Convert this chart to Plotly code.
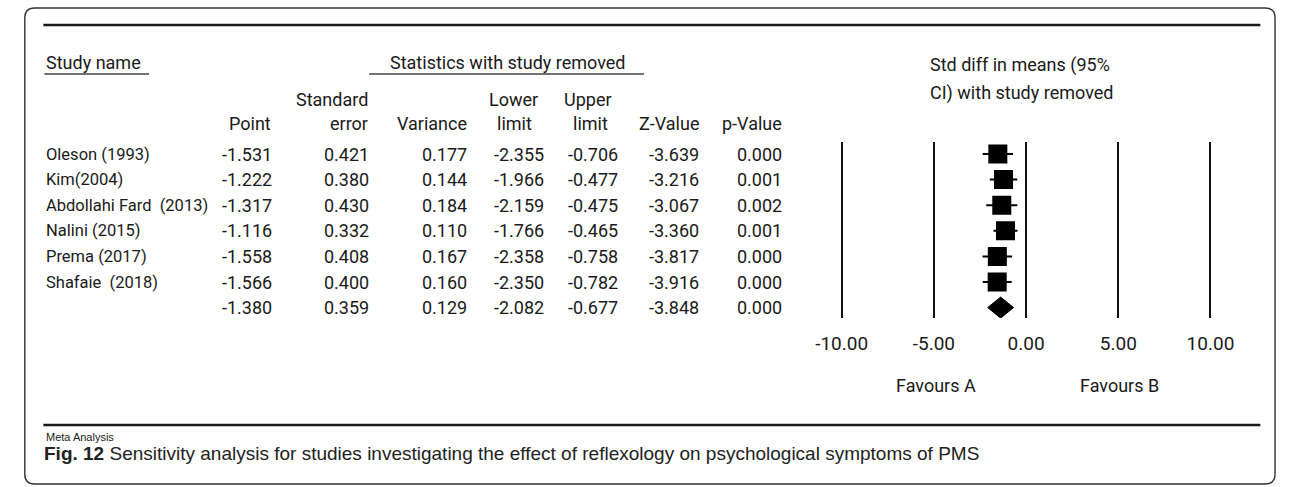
import plotly.graph_objects as go

W, H = 1290, 487

# ---------------- data ----------------
studies = ["Oleson (1993)", "Kim(2004)", "Abdollahi Fard\u00a0 (2013)", "Nalini (2015)",
           "Prema (2017)", "Shafaie\u00a0 (2018)", ""]
point = [-1.531, -1.222, -1.317, -1.116, -1.558, -1.566, -1.380]
std_err = [0.421, 0.380, 0.430, 0.332, 0.408, 0.400, 0.359]
variance = [0.177, 0.144, 0.184, 0.110, 0.167, 0.160, 0.129]
lower = [-2.355, -1.966, -2.159, -1.766, -2.358, -2.350, -2.082]
upper = [-0.706, -0.477, -0.475, -0.465, -0.758, -0.782, -0.677]
z_value = [-3.639, -3.216, -3.067, -3.360, -3.817, -3.916, -3.848]
p_value = [0.000, 0.001, 0.002, 0.001, 0.000, 0.000, 0.000]
tick_vals = [-10, -5, 0, 5, 10]
tick_text = ["-10.00", "-5.00", "0.00", "5.00", "10.00"]

FONT = "Roboto, Arial, sans-serif"
INK = "#1a1a1a"


def px(x):
    return x / W


def py(y):
    return 1 - y / H


n = len(studies)
row_y0, row_dy = 154, 25.6
row_px = [row_y0 + row_dy * i for i in range(n)]

annotations = []


def txt(x, y, s, anchor="left", size=18, font=FONT, color=INK):
    annotations.append(dict(x=px(x), y=py(y), xref="paper", yref="paper", text=s,
                            showarrow=False, xanchor=anchor, yanchor="middle",
                            font=dict(family=font, size=size, color=color)))


# headers
txt(30, 63, "Study name")
txt(503, 63, "Statistics with study removed", anchor="center")
txt(933, 65, "Std diff in means (95%")
txt(933, 93, "CI) with study removed")
txt(363, 100, "Standard", anchor="right")
txt(510, 100, "Lower", anchor="center")
txt(586, 100, "Upper", anchor="center")
head_bot_right = [("Point", 264), ("error", 363), ("Variance", 464), ("Z-Value", 701),
                  ("p-Value", 786)]
for s, x in head_bot_right:
    txt(x, 123, s, anchor="right")
txt(511, 123, "limit", anchor="center")
txt(588, 123, "limit", anchor="center")

# table body
cols = [(point, 265), (std_err, 364), (variance, 464), (lower, 543), (upper, 618),
        (z_value, 701), (p_value, 786)]
for i in range(n):
    y = row_px[i]
    if studies[i]:
        txt(30, y, studies[i], size=16.5)
    for vals, xr in cols:
        txt(xr, y, f"{vals[i]:.3f}", anchor="right")

txt(941, 385, "Favours A", anchor="center")
txt(1129, 385, "Favours B", anchor="center")
txt(30, 437, "Meta Analysis", size=11, font="Liberation Sans, Arial, sans-serif")
txt(28, 453, "<b>Fig. 12</b> Sensitivity analysis for studies investigating the effect of "
             "reflexology on psychological symptoms of PMS", size=19,
    font="Liberation Sans Narrow, Arial Narrow, Liberation Sans, sans-serif", color="#222")

# ---------------- forest plot ----------------
x0_px, x10_px = 845, 1222
ppu = (x10_px - x0_px) / 20.0
xr_lo, xr_hi = -10.6, 10.6
dom_x = [px(x0_px + (xr_lo + 10) * ppu), px(x0_px + (xr_hi + 10) * ppu)]
top_px, bot_px = 142, 318
dom_y = [py(bot_px), py(top_px)]
y_hi = (bot_px - row_y0) / row_dy
y_lo = (top_px - row_y0) / row_dy

fig = go.Figure()
ns = n - 1
fig.add_trace(go.Scatter(
    x=point[:ns], y=list(range(ns)), mode="markers",
    marker=dict(symbol="square", size=19, color="black"),
    error_x=dict(type="data", symmetric=False,
                 array=[u - p for u, p in zip(upper[:ns], point[:ns])],
                 arrayminus=[p - l for p, l in zip(point[:ns], lower[:ns])],
                 color="black", thickness=2, width=0),
    hoverinfo="skip", showlegend=False))

dh = 0.41
k = ns
fig.add_trace(go.Scatter(
    x=[lower[k], point[k], upper[k], point[k], lower[k]],
    y=[k, k - dh, k, k + dh, k], mode="lines", fill="toself",
    fillcolor="black", line=dict(color="black", width=1),
    hoverinfo="skip", showlegend=False))

fig.update_xaxes(domain=dom_x, range=[xr_lo, xr_hi], tickvals=tick_vals, ticktext=tick_text,
                 showgrid=True, gridcolor="#111", gridwidth=2, zeroline=False,
                 showline=False, ticks="", ticklabelstandoff=12,
                 tickfont=dict(family=FONT, size=19, color=INK), fixedrange=True)
fig.update_yaxes(domain=dom_y, range=[y_hi, y_lo], visible=False, showgrid=False,
                 zeroline=False, fixedrange=True)

# ---------------- frame & rules ----------------
shapes = []
L, T, R, B, r = 10, 8, 1288, 484, 10
path = (f"M {px(L + r)},{py(T)} L {px(R - r)},{py(T)} Q {px(R)},{py(T)} {px(R)},{py(T + r)} "
        f"L {px(R)},{py(B - r)} Q {px(R)},{py(B)} {px(R - r)},{py(B)} "
        f"L {px(L + r)},{py(B)} Q {px(L)},{py(B)} {px(L)},{py(B - r)} "
        f"L {px(L)},{py(T + r)} Q {px(L)},{py(T)} {px(L + r)},{py(T)} Z")
shapes.append(dict(type="path", xref="paper", yref="paper", path=path,
                   line=dict(color="#333", width=1.4)))
for y in (25, 425):
    shapes.append(dict(type="line", xref="paper", yref="paper", x0=px(29), x1=px(1273),
                       y0=py(y), y1=py(y), line=dict(color="#1a1a1a", width=2.6)))
for x0, x1 in ((30, 137), (362, 643)):
    shapes.append(dict(type="line", xref="paper", yref="paper", x0=px(x0), x1=px(x1),
                       y0=py(74), y1=py(74), line=dict(color="#444", width=1.3)))

fig.update_layout(width=W, height=H, margin=dict(l=0, r=0, t=0, b=0),
                  paper_bgcolor="white", plot_bgcolor="white",
                  annotations=annotations, shapes=shapes)

fig.write_html("out.html", config={"displayModeBar": False},
               post_script="document.body.style.margin='0';"
                           "document.body.style.overflow='hidden';")
